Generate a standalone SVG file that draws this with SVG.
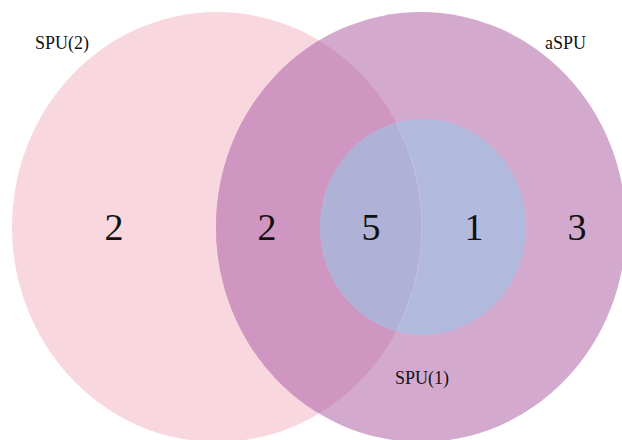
<svg xmlns="http://www.w3.org/2000/svg" width="622" height="440" viewBox="0 0 622 440">
<style>
.num{font-family:'Liberation Serif','Times New Roman',serif;font-size:38px;fill:#111;text-anchor:middle}
.lbl{font-family:'Liberation Serif','Times New Roman',serif;font-size:18px;fill:#111}
</style>
<defs>
<clipPath id="cL"><ellipse cx="217" cy="227" rx="205" ry="215"/></clipPath>
<clipPath id="cI"><ellipse cx="423" cy="227" rx="103" ry="108"/></clipPath>
</defs>
<rect width="622" height="440" fill="#fff"/>
<g id="set-spu2"><ellipse cx="217" cy="227" rx="205" ry="215" fill="#f9d7df"/></g>
<g id="set-aspu"><ellipse cx="421" cy="227" rx="205" ry="215" fill="#d3a9cd"/>
<ellipse cx="421" cy="227" rx="205" ry="215" fill="#d096c2" clip-path="url(#cL)"/></g>
<g id="set-spu1"><ellipse cx="423" cy="227" rx="103" ry="108" fill="#b1badd"/>
<ellipse cx="423" cy="227" rx="103" ry="108" fill="#b0b1d6" clip-path="url(#cL)"/>
<ellipse cx="217" cy="227" rx="205" ry="215" fill="none" stroke="#c9c4e4" stroke-width="0.8" clip-path="url(#cI)"/></g>
<g id="counts">
<text class="num" x="114" y="240">2</text>
<text class="num" x="267" y="240">2</text>
<text class="num" x="371" y="240">5</text>
<text class="num" x="474" y="240">1</text>
<text class="num" x="577" y="240">3</text>
</g>
<g id="labels">
<text class="lbl" x="35" y="49">SPU(2)</text>
<text class="lbl" x="545" y="49">aSPU</text>
<text class="lbl" x="395" y="384">SPU(1)</text>
</g>
<g id="connectors"/>
</svg>
